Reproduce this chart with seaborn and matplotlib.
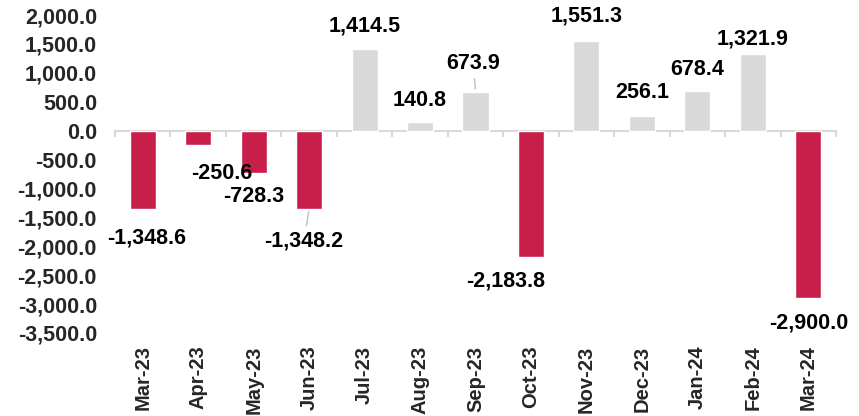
import matplotlib
matplotlib.use("Agg")
import matplotlib.pyplot as plt
import seaborn as sns
import pandas as pd

months = ["Mar-23", "Apr-23", "May-23", "Jun-23", "Jul-23", "Aug-23", "Sep-23",
          "Oct-23", "Nov-23", "Dec-23", "Jan-24", "Feb-24", "Mar-24"]
values = [-1348.6, -250.6, -728.3, -1348.2, 1414.5, 140.8, 673.9,
          -2183.8, 1551.3, 256.1, 678.4, 1321.9, -2900.0]

# label offsets from bar end, in pixels (dx, dy)
label_offsets = [(4, -29), (24, -28), (0, -24), (-5, -32), (0, 23), (0, 22), (-2, 28),
                 (-25, -24), (0, 25), (0, 23), (0, 22), (0, 15), (0, -25)]
leaders = {"Jun-23", "Sep-23"}

RED = "#C81F4A"
GREY = "#D9D9D9"
FS = 15.5

sns.set_style("white")
plt.rcParams["font.family"] = ["Liberation Sans", "DejaVu Sans"]
plt.rcParams["font.weight"] = "bold"

df = pd.DataFrame({"month": months, "value": values})
colors = [RED if v < 0 else GREY for v in values]

fig = plt.figure(figsize=(8.59, 4.16), dpi=100)
ax = fig.add_axes([115 / 859, 1 - 333 / 416, (836 - 115) / 859, (333 - 15) / 416])

sns.barplot(data=df, x="month", y="value", hue="month", palette=colors,
            legend=False, width=0.47, saturation=1, ax=ax)

ax.set_xlim(-0.5, len(months) - 0.5)
ax.set_ylim(-3500, 2000)
ax.set_yticks(range(-3500, 2001, 500))
ax.yaxis.set_major_formatter(matplotlib.ticker.FuncFormatter(lambda v, p: f"{v:,.1f}"))
ax.tick_params(axis="y", length=0, pad=13, labelsize=FS)
ax.tick_params(axis="x", length=0, pad=9, labelsize=14.5, rotation=90)
for lab in ax.get_xticklabels() + ax.get_yticklabels():
    lab.set_fontweight("bold")
ax.set_xlabel("")
ax.set_ylabel("")
for s in ax.spines.values():
    s.set_visible(False)

# zero line with category boundary ticks
sec = ax.secondary_xaxis(0, transform=ax.transData)
sec.set_xticks([i - 0.5 for i in range(len(months) + 1)])
sec.set_xticklabels([])
sec.tick_params(axis="x", direction="out", length=4, width=1.5, color=GREY)
sec.spines["bottom"].set_color(GREY)
sec.spines["bottom"].set_linewidth(1.5)

for i, (m, v) in enumerate(zip(months, values)):
    dx, dy = label_offsets[i]
    arrow = None
    if m in leaders:
        arrow = dict(arrowstyle="-", color="#BFBFBF", lw=1, shrinkA=1, shrinkB=2)
    ax.annotate(f"{v:,.1f}", xy=(i, v), xytext=(dx * 0.72, dy * 0.72),
                textcoords="offset points", ha="center", va="center",
                fontsize=FS, fontweight="bold", color="black", arrowprops=arrow)

fig.savefig("out.png", dpi=100)
